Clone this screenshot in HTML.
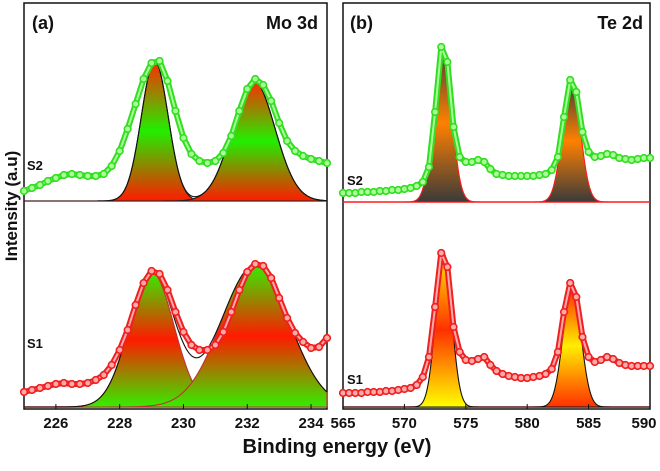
<!DOCTYPE html>
<html><head><meta charset="utf-8"><style>
body{margin:0;background:#fff;width:660px;height:466px;overflow:hidden}
text{font-family:"Liberation Sans",sans-serif;font-weight:bold;fill:#111}
</style></head><body>
<svg id="chart" width="660" height="466" viewBox="0 0 660 466" xmlns="http://www.w3.org/2000/svg">
<defs>
<linearGradient id="gMoS2" x1="0" y1="0" x2="0" y2="1"><stop offset="0" stop-color="#ff2a00"/><stop offset="0.5" stop-color="#22ee00"/><stop offset="1" stop-color="#ff1a00"/></linearGradient>
<linearGradient id="gMoS1" x1="0" y1="0" x2="0" y2="1"><stop offset="0" stop-color="#33ee00"/><stop offset="0.5" stop-color="#ff1a00"/><stop offset="1" stop-color="#33ee00"/></linearGradient>
<linearGradient id="gTeS2" x1="0" y1="0" x2="0" y2="1"><stop offset="0" stop-color="#3a3a3a"/><stop offset="0.5" stop-color="#ff8000"/><stop offset="1" stop-color="#3a3a3a"/></linearGradient>
<linearGradient id="gTeS1a" x1="0" y1="0" x2="0" y2="1"><stop offset="0" stop-color="#ffee00"/><stop offset="0.5" stop-color="#ff3000"/><stop offset="1" stop-color="#ffff00"/></linearGradient>
<linearGradient id="gTeS1b" x1="0" y1="0" x2="0" y2="1"><stop offset="0" stop-color="#ff2000"/><stop offset="0.5" stop-color="#ffee00"/><stop offset="1" stop-color="#ff3000"/></linearGradient>
</defs>
<rect x="24" y="3" width="303" height="406" fill="none" stroke="#111" stroke-width="1.5"/>
<rect x="343" y="3" width="307" height="406" fill="none" stroke="#111" stroke-width="1.5"/>
<text x="32" y="29" font-size="18">(a)</text>
<text x="318" y="29" font-size="18" text-anchor="end">Mo 3d</text>
<text x="350" y="29" font-size="18">(b)</text>
<text x="643" y="29" font-size="18" text-anchor="end">Te 2d</text>
<text x="27" y="170" font-size="13">S2</text>
<text x="27" y="348" font-size="13">S1</text>
<text x="347" y="185" font-size="13">S2</text>
<text x="347" y="384" font-size="13">S1</text>
<text transform="translate(17,206) rotate(-90)" font-size="17" text-anchor="middle">Intensity (a.u)</text>
<text x="337" y="453" font-size="20" text-anchor="middle">Binding energy (eV)</text>
<g id="layer"></g>
</svg>
<script>
// ---- data ----
const moX0 = 225, moStep = 0.25;
const moS2 = [10,13,16,20,23,26,27,26,25,25,27,35,50,72,97,122,138,140,120,90,63,47,40,38,40,48,65,90,112,122,116,100,78,60,50,45,42,40,38];
const moS1 = [15,17,19,21,23,24,23,23,24,27,32,42,57,77,102,124,136,133,117,95,75,62,57,57,62,75,95,117,135,143,141,129,109,89,74,65,59,60,69];
const teX0 = 565, teStep = 0.5;
const teS2 = [9,9,9,10,10,10,11,11,12,12,13,14,16,20,35,90,155,140,75,45,40,40,42,40,33,28,27,26,26,26,26,26,27,28,32,45,85,122,110,70,50,45,46,48,47,44,43,42,43,44,44];
const teS1 = [14,14,14,14,15,15,15,16,16,17,18,19,22,30,50,100,154,140,80,55,47,46,48,50,42,36,33,31,30,29,29,30,31,33,38,55,95,124,110,70,50,45,47,50,48,44,42,41,41,41,41];
// fit peaks: [center, height, sigma]
const moS2Peaks = [[229.1,140,0.42],[232.2,120,0.67]];
const moS1Peaks = [[229.0,135,0.7],[232.25,142,1.06]];
const teS2Peaks = [[573.1,158,0.72],[583.6,122,0.72]];
const teS1Peaks = [[573.2,154,0.65],[583.65,122,0.72]];
const moTicks = [226,228,230,232,234];
const teTicks = [565,570,575,580,585,590];

// ---- axes ----
const NS='http://www.w3.org/2000/svg';
const layer=document.getElementById('layer');
const xMo=v=>24+(v-225)*303/9.5;
const xTe=v=>343+(v-565)*307/25;
const yTop=v=>201-v, yBot=v=>407-v;
function mk(tag,attrs,parent){const e=document.createElementNS(NS,tag);for(const k in attrs)e.setAttribute(k,attrs[k]);(parent||layer).appendChild(e);return e;}

function drawFits(peaks,xs,ys,lo,hi,fills,stroke,name){
  peaks.forEach((p,i)=>{
    let d='';
    for(let v=lo;v<=hi+1e-9;v+=0.02){const g=p[1]*Math.exp(-((v-p[0])**2)/(2*p[2]*p[2]));d+=(d?'L':'M')+xs(v).toFixed(2)+','+ys(g).toFixed(2);}
    d+='L'+xs(hi)+','+ys(0)+'L'+xs(lo)+','+ys(0)+'Z';
    const top=ys(p[1]), bot=ys(0);
    const gid=name+'-grad'+i;
    const lg=mk('linearGradient',{id:gid,gradientUnits:'userSpaceOnUse',x1:0,y1:top,x2:0,y2:bot,href:'#'+fills[i]},document.querySelector('defs'));
    
    
    const e=mk('path',{d:d,fill:'url(#'+gid+')',stroke:stroke,'stroke-width':1.1});
    
    
  });
}
function drawSum(peaks,xs,ys,lo,hi,name){
  let d='';
  for(let v=lo;v<=hi+1e-9;v+=0.02){let s=0;peaks.forEach(p=>s+=p[1]*Math.exp(-((v-p[0])**2)/(2*p[2]*p[2])));d+=(d?'L':'M')+xs(v).toFixed(2)+','+ys(s).toFixed(2);}
  const e=mk('path',{d:d,fill:'none',stroke:'#111','stroke-width':1.1});
  
  
}
function drawData(arr,x0,step,xs,ys,col,fillc,name){
  const g=mk('g',{});
  
  
  let d='';
  arr.forEach((v,i)=>{d+=(i?'L':'M')+xs(x0+i*step)+','+ys(v);});
  mk('path',{d:d,fill:'none',stroke:col,'stroke-width':6,'stroke-linejoin':'round','stroke-linecap':'round'},g);
  mk('path',{d:d,fill:'none',stroke:fillc,'stroke-width':2,'stroke-linejoin':'round'},g);
  arr.forEach((v,i)=>{
    const c=mk('circle',{cx:xs(x0+i*step),cy:ys(v),r:3.3,fill:fillc,stroke:col,'stroke-width':1.6},g);
    
    
  });
}
// baselines
mk('line',{x1:24,x2:327,y1:201,y2:201,stroke:'#e22','stroke-width':1.2});
mk('line',{x1:343,x2:650,y1:202,y2:202,stroke:'#f22','stroke-width':1.5});
mk('line',{x1:24,x2:327,y1:407,y2:407,stroke:'#e22','stroke-width':1.5});
mk('line',{x1:343,x2:650,y1:407,y2:407,stroke:'#e22','stroke-width':1.5});

drawFits(moS2Peaks,xMo,yTop,225,234.5,['gMoS2','gMoS2'],'#222','mo-s2');
drawSum(moS2Peaks,xMo,yTop,225,234.5,'mo-s2');
drawData(moS2,moX0,moStep,xMo,yTop,'#33dd22','#aaff99','mo-s2');
drawFits(moS1Peaks,xMo,yBot,225,234.5,['gMoS1','gMoS1'],'#b33','mo-s1');
drawSum(moS1Peaks,xMo,yBot,225,234.5,'mo-s1');
drawData(moS1,moX0,moStep,xMo,yBot,'#ee2020','#ffaaaa','mo-s1');
drawFits(teS2Peaks,xTe,t=>202-t,565,590,['gTeS2','gTeS2'],'#ff1a1a','te-s2');
drawData(teS2,teX0,teStep,xTe,t=>202-t,'#33dd22','#aaff99','te-s2');
drawFits(teS1Peaks,xTe,yBot,565,590,['gTeS1a','gTeS1b'],'#111','te-s1');
drawData(teS1,teX0,teStep,xTe,yBot,'#ee2020','#ffaaaa','te-s1');

mk('line',{x1:24,x2:327,y1:201,y2:201,stroke:'#222','stroke-width':0.8});
// ticks
moTicks.forEach(t=>{
  const l=mk('line',{x1:xMo(t),x2:xMo(t),y1:409,y2:404,stroke:'#111','stroke-width':1});
  
  
  const e=mk('text',{x:xMo(t),y:428,'font-size':15,'text-anchor':'middle'});
  e.textContent=t;
  
  
});
teTicks.forEach(t=>{
  const l=mk('line',{x1:xTe(t),x2:xTe(t),y1:409,y2:404,stroke:'#111','stroke-width':1});
  
  
  const e=mk('text',{x:xTe(t)-(t===590?6:0),y:428,'font-size':15,'text-anchor':'middle'});
  e.textContent=t;
  
  
});
</script>
</body></html>
